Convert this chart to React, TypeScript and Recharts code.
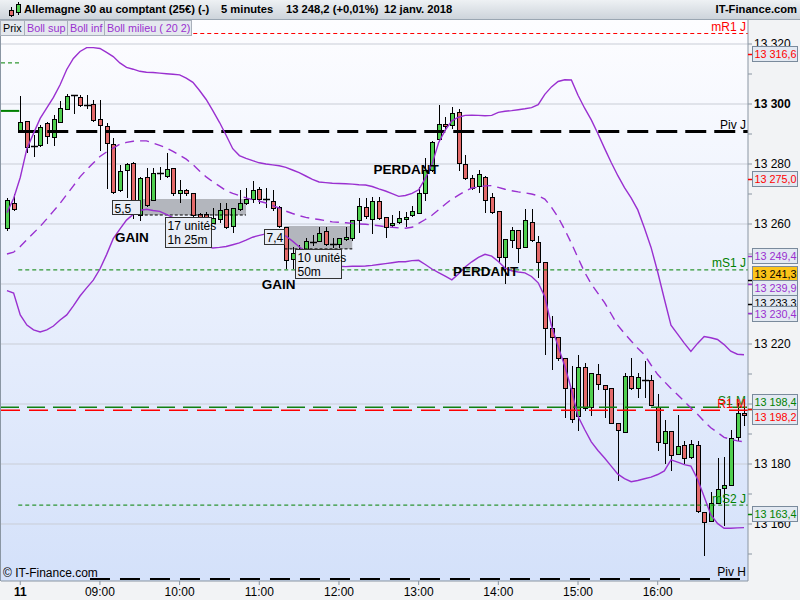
import React from "react";
import {
  ComposedChart,
  Bar,
  Line,
  XAxis,
  YAxis,
  CartesianGrid,
  ReferenceLine,
  ReferenceArea,
  ReferenceDot,
} from "recharts";

const FONT = '"Liberation Sans", Arial, sans-serif';
const GREEN = "#4fcf4f";
const RED = "#e36a6a";
const PURPLE = "#9a30d0";
const AXIS = "#8a96a3";

// 5-minute candles, 07:50 -> 17:05
const opens = [
  13258.6, 13266.9, 13290.8, 13294.3, 13286.0, 13286.3, 13293.5, 13288.9, 13293.9, 13298.3,
  13302.9, 13302.4, 13299.7, 13300.0, 13294.9, 13292.8, 13286.6, 13271.2, 13277.9, 13280.4,
  13263.0, 13275.6, 13268.0, 13276.8, 13276.0, 13278.6, 13270.2, 13271.3, 13270.2, 13263.3,
  13263.3, 13260.4, 13261.6, 13264.9, 13259.3, 13264.9, 13266.9, 13268.2, 13271.6, 13268.2,
  13267.8, 13265.8, 13259.1, 13248.2, 13251.3, 13251.3, 13254.1, 13254.4, 13257.7, 13253.3,
  13253.3, 13255.0, 13255.2, 13261.3, 13265.8, 13261.6, 13267.8, 13262.2, 13259.7, 13260.6,
  13261.7, 13263.0, 13263.6, 13270.2, 13278.0, 13288.3, 13293.4, 13293.0, 13297.2, 13279.9,
  13275.2, 13272.8, 13275.8, 13269.1, 13264.3, 13249.1, 13254.7, 13258.0, 13252.4, 13260.7,
  13254.1, 13247.2, 13225.4, 13222.2, 13215.2, 13205.2, 13196.0, 13212.2, 13198.9, 13209.9,
  13206.2, 13205.2, 13193.6, 13190.8, 13209.3, 13205.2, 13208.1, 13207.9, 13198.9, 13186.9,
  13191.0, 13183.3, 13186.3, 13182.2, 13186.3, 13164.1, 13161.1, 13167.1, 13171.9, 13173.0,
  13188.9, 13196.9,
];
const highs = [
  13268.7, 13269.9, 13302.7, 13294.5, 13289.7, 13293.0, 13294.0, 13296.3, 13301.0, 13303.2,
  13303.1, 13303.0, 13303.0, 13301.3, 13301.3, 13293.7, 13288.7, 13279.7, 13280.2, 13280.7,
  13275.8, 13278.6, 13278.6, 13279.0, 13283.6, 13278.7, 13274.7, 13271.7, 13270.3, 13263.7,
  13264.0, 13265.3, 13266.9, 13266.9, 13265.3, 13271.3, 13272.0, 13274.4, 13272.4, 13271.9,
  13271.3, 13266.0, 13259.1, 13252.2, 13253.0, 13255.3, 13256.3, 13258.9, 13258.9, 13255.2,
  13255.3, 13258.9, 13261.3, 13268.6, 13268.6, 13269.1, 13269.1, 13262.3, 13263.0, 13264.2,
  13264.1, 13266.0, 13272.4, 13282.1, 13287.6, 13299.7, 13295.8, 13299.1, 13298.3, 13283.0,
  13276.3, 13278.0, 13276.0, 13270.3, 13264.3, 13255.0, 13259.1, 13258.0, 13265.0, 13265.0,
  13256.0, 13247.3, 13229.3, 13222.3, 13215.3, 13212.7, 13216.3, 13213.6, 13210.4, 13213.3,
  13206.3, 13205.3, 13193.7, 13210.3, 13215.2, 13210.4, 13214.3, 13209.8, 13203.4, 13194.7,
  13191.0, 13196.3, 13187.8, 13188.0, 13187.8, 13164.1, 13170.8, 13181.9, 13182.2, 13191.3,
  13200.2, 13200.8,
];
const lows = [
  13258.0, 13264.7, 13290.6, 13284.1, 13282.8, 13286.0, 13287.0, 13286.2, 13293.9, 13298.3,
  13296.9, 13299.3, 13298.6, 13294.3, 13284.7, 13271.9, 13270.5, 13271.0, 13269.1, 13262.0,
  13261.3, 13266.0, 13268.0, 13275.0, 13275.8, 13269.7, 13267.4, 13269.7, 13262.0, 13259.0,
  13259.7, 13260.4, 13260.8, 13258.7, 13257.4, 13264.7, 13266.7, 13267.4, 13267.0, 13265.8,
  13264.7, 13258.9, 13245.2, 13245.2, 13249.0, 13250.7, 13253.0, 13254.3, 13253.0, 13252.4,
  13252.4, 13254.7, 13254.7, 13257.4, 13262.0, 13257.1, 13261.7, 13255.8, 13259.4, 13260.4,
  13259.4, 13262.7, 13263.6, 13268.0, 13277.7, 13288.0, 13291.3, 13291.9, 13278.0, 13274.9,
  13271.6, 13270.8, 13264.1, 13263.7, 13247.4, 13240.2, 13252.4, 13247.4, 13252.3, 13254.5,
  13242.4, 13216.7, 13211.6, 13214.7, 13195.8, 13194.1, 13191.3, 13198.0, 13196.3, 13204.9,
  13195.8, 13193.7, 13174.7, 13190.7, 13205.1, 13202.4, 13202.4, 13199.7, 13184.7, 13180.2,
  13178.0, 13183.3, 13180.2, 13182.0, 13164.0, 13149.7, 13161.0, 13167.0, 13159.7, 13173.0,
  13188.0, 13193.0,
];
const closes = [
  13268.0, 13265.0, 13293.9, 13285.6, 13286.0, 13292.4, 13289.2, 13295.0, 13298.6, 13302.8,
  13302.9, 13299.7, 13299.7, 13294.7, 13293.0, 13286.9, 13270.8, 13277.7, 13280.1, 13263.8,
  13275.2, 13266.3, 13276.9, 13277.0, 13278.2, 13270.2, 13271.3, 13270.2, 13263.0, 13262.2,
  13262.2, 13261.9, 13264.7, 13259.1, 13265.2, 13267.1, 13268.2, 13271.3, 13268.2, 13268.2,
  13265.2, 13259.3, 13248.0, 13250.2, 13251.3, 13254.3, 13254.1, 13257.1, 13253.3, 13253.3,
  13255.2, 13255.8, 13261.3, 13266.0, 13262.7, 13267.8, 13261.9, 13259.1, 13260.2, 13261.9,
  13262.4, 13264.3, 13270.2, 13278.0, 13287.4, 13293.2, 13292.6, 13296.9, 13280.2, 13275.2,
  13271.9, 13276.6, 13268.0, 13263.9, 13249.1, 13255.0, 13258.0, 13252.1, 13261.3, 13254.7,
  13247.4, 13225.2, 13222.2, 13215.4, 13205.2, 13194.9, 13212.2, 13198.6, 13210.2, 13206.7,
  13204.9, 13193.8, 13191.3, 13209.3, 13205.2, 13208.9, 13207.9, 13199.8, 13187.4, 13190.9,
  13183.0, 13186.0, 13181.9, 13186.7, 13164.4, 13160.8, 13166.9, 13171.6, 13173.0, 13188.6,
  13196.9, 13196.3,
];

// Bollinger (20, 2)
const bollSup = [
  13263.8, 13268.5, 13275.5, 13285.1, 13290.2, 13295.2, 13298.7, 13302.2, 13306.4, 13311.5,
  13315.2, 13317.5, 13318.8, 13318.8, 13318.5, 13317.2, 13315.8, 13313.7, 13312.2, 13311.6,
  13310.9, 13310.6, 13310.5, 13310.3, 13310.1, 13309.9, 13309.7, 13308.6, 13307.2, 13304.5,
  13301.5, 13297.8, 13293.9, 13289.6, 13285.1, 13282.8, 13281.9, 13281.1, 13280.4, 13280.0,
  13279.7, 13279.4, 13278.9, 13278.0, 13277.1, 13276.0, 13274.9, 13274.0, 13273.8, 13273.6,
  13273.5, 13273.4, 13273.3, 13273.1, 13273.0, 13272.5, 13271.7, 13271.0, 13270.1, 13269.2,
  13269.5, 13270.2, 13271.4, 13275.2, 13279.8, 13287.1, 13291.3, 13294.4, 13295.6, 13296.2,
  13296.3, 13296.2, 13296.1, 13296.2, 13297.2, 13297.6, 13297.8, 13298.1, 13298.4, 13298.8,
  13299.8, 13303.2, 13305.7, 13307.5, 13308.1, 13308.0, 13302.9, 13298.6, 13294.7, 13290.1,
  13285.2, 13280.5, 13276.1, 13272.1, 13268.7, 13264.7, 13258.7, 13252.2, 13244.0, 13235.0,
  13226.3, 13223.3, 13220.3, 13217.5, 13220.2, 13222.5, 13222.1, 13221.5, 13219.8, 13217.6,
  13216.6, 13216.4,
];
const bollMid = [
  13250.0, 13250.6, 13252.5, 13254.8, 13257.0, 13259.2, 13261.7, 13264.3, 13266.9, 13269.8,
  13272.7, 13275.7, 13278.1, 13280.3, 13282.5, 13284.0, 13285.3, 13286.6, 13287.2, 13287.6,
  13287.7, 13287.7, 13287.0, 13286.2, 13285.4, 13284.2, 13282.9, 13281.6, 13279.8, 13277.7,
  13275.7, 13274.1, 13272.6, 13271.1, 13270.2, 13269.5, 13268.7, 13268.1, 13267.6, 13267.0,
  13266.2, 13265.3, 13264.3, 13263.5, 13262.8, 13262.2, 13261.8, 13261.5, 13261.1, 13260.7,
  13260.6, 13260.4, 13260.2, 13260.0, 13259.9, 13259.7, 13259.4, 13259.1, 13258.9, 13258.7,
  13258.6, 13258.9, 13260.2, 13261.5, 13262.9, 13264.7, 13266.6, 13268.3, 13269.6, 13270.9,
  13272.0, 13272.3, 13272.7, 13272.8, 13272.2, 13271.6, 13271.1, 13270.7, 13270.4, 13270.0,
  13269.4, 13268.3, 13265.6, 13262.3, 13258.1, 13253.6, 13248.7, 13243.9, 13240.0, 13236.9,
  13233.8, 13230.0, 13226.2, 13223.5, 13221.0, 13218.6, 13216.4, 13213.0, 13209.8, 13207.5,
  13205.2, 13203.1, 13200.9, 13198.7, 13196.6, 13194.2, 13192.1, 13190.5, 13188.9, 13188.2,
  13187.7, 13187.4,
];
const bollInf = [
  13237.8, 13237.0, 13229.7, 13226.3, 13224.7, 13224.0, 13224.7, 13226.0, 13228.0, 13229.7,
  13232.7, 13236.0, 13238.7, 13241.3, 13245.0, 13249.8, 13255.1, 13258.3, 13261.3, 13263.2,
  13264.5, 13264.9, 13264.5, 13264.2, 13263.2, 13262.1, 13261.0, 13258.8, 13256.2, 13253.6,
  13252.6, 13252.0, 13252.2, 13252.5, 13253.1, 13253.7, 13254.6, 13255.6, 13256.2, 13256.7,
  13257.2, 13256.8, 13256.0, 13254.3, 13252.4, 13250.8, 13249.3, 13247.8, 13247.0, 13246.5,
  13245.9, 13245.8, 13245.9, 13245.9, 13246.0, 13246.2, 13246.5, 13246.8, 13247.1, 13247.4,
  13247.4, 13247.8, 13247.9, 13246.5, 13245.0, 13243.8, 13242.6, 13241.4, 13243.3, 13245.7,
  13247.4, 13248.9, 13249.9, 13249.3, 13247.5, 13245.3, 13244.4, 13244.0, 13243.7, 13242.5,
  13240.4, 13235.8, 13226.1, 13219.2, 13212.7, 13204.9, 13195.9, 13191.5, 13187.4, 13184.5,
  13182.0, 13179.3, 13176.6, 13175.1, 13174.1, 13174.5, 13175.1, 13175.6, 13176.5, 13177.7,
  13181.4, 13180.6, 13179.8, 13179.3, 13174.9, 13169.1, 13163.1, 13160.2, 13158.6, 13158.6,
  13158.7, 13158.8,
];

const hourTicks = [2, 14, 26, 38, 50, 62, 74, 86, 98];
const hourLabels = ["11", "09:00", "10:00", "11:00", "12:00", "13:00", "14:00", "15:00", "16:00"];
const gridLevels = [13160, 13180, 13200, 13220, 13240, 13260, 13280, 13300, 13320];
const yTicks = [
  13150, 13160, 13170, 13180, 13190, 13200, 13210, 13220, 13230, 13240, 13250,
  13260, 13270, 13280, 13290, 13300, 13310, 13320,
];

const levels = [
  { name: "mR1 J", value: 13323.5, color: "#ff0000", dash: "4 3", width: 1, from: 1.7 },
  { name: "Piv J", value: 13290.8, color: "#000000", dash: "21 8", width: 3, from: 1.7 },
  { name: "mS1 J", value: 13244.7, color: "#008000", dash: "4 3", width: 1, from: 1.7 },
  { name: "S1 M", value: 13198.9, color: "#108010", dash: "18 8", width: 1.5, from: -0.9 },
  { name: "R1 M", value: 13197.9, color: "#ff0000", dash: "19 9", width: 1.5, from: -0.9 },
  { name: "mS2 J", value: 13166.3, color: "#008000", dash: "4 3", width: 1, from: 1.7 },
  { name: "Piv H", value: 13141.7, color: "#000000", dash: "20 10", width: 2, from: 12.5 },
];

const priceTags = [
  { value: 13316.6, text: "13 316,6", color: "#ff0000", bg: "#e3e9f2", dy: 0 },
  { value: 13275.0, text: "13 275,0", color: "#ff0000", bg: "#e3e9f2", dy: 0 },
  { value: 13249.4, text: "13 249,4", color: PURPLE, bg: "#e3e9f2", dy: 0 },
  { value: 13241.3, text: "13 241,3", color: "#000000", bg: "#fcc419", dy: -6 },
  { value: 13239.9, text: "13 239,9", color: PURPLE, bg: "#e3e9f2", dy: 3.5 },
  { value: 13233.3, text: "13 233,3", color: "#000000", bg: "#e3e9f2", dy: -1.5 },
  { value: 13230.4, text: "13 230,4", color: PURPLE, bg: "#e3e9f2", dy: 1.5 },
  { value: 13198.4, text: "13 198,4", color: "#008000", bg: "#e3e9f2", dy: -7 },
  { value: 13198.2, text: "13 198,2", color: "#ff0000", bg: "#e3e9f2", dy: 8 },
  { value: 13163.4, text: "13 163,4", color: "#008000", bg: "#e3e9f2", dy: 0 },
];

const trades = [
  { from: 20, to: 36, top: 13268.3, bottom: 13263.0 },
  { from: 41.8, to: 52, top: 13259.3, bottom: 13251.7 },
];

const notes = [
  { i: 15.86, v: 13268.0, w: 28, h: 14, lines: ["5,5"] },
  { i: 23.84, v: 13262.3, w: 46, h: 30, lines: ["17 unités", "1h 25m"] },
  { i: 38.75, v: 13258.5, w: 20, h: 15, lines: ["7,4"] },
  { i: 43.4, v: 13251.7, w: 46, h: 29, lines: ["10 unités", "50m"] },
];

const tags = [
  { i: 18.8, v: 13255.7, text: "GAIN" },
  { i: 40.9, v: 13240.0, text: "GAIN" },
  { i: 60.1, v: 13278.3, text: "PERDANT" },
  { i: 72.1, v: 13244.5, text: "PERDANT" },
];

const data = opens.map((o, i) => ({
  i,
  o,
  h: highs[i],
  l: lows[i],
  c: closes[i],
  sup: bollSup[i],
  mid: bollMid[i],
  inf: bollInf[i],
}));

const X_DOMAIN = [-0.9, 111.6];
const Y_DOMAIN = [13141, 13328];

const fmt = (v: number) => `${Math.floor(v / 1000)} ${String(v % 1000).padStart(3, "0")}`;

// a y label is hidden when one of the price tags sits on it
const coveredByTag = (v: number) =>
  priceTags.some((p) => Math.abs(p.value - p.dy / 3 - v) < 3);

const Candle = (props: any) => {
  const { x, y, width, height, payload } = props;
  if (x == null || y == null || !payload) return null;
  const { o, h, l, c } = payload;
  const top = Math.min(y, y + height);
  const hgt = Math.abs(height);
  const cx = Math.round(x + width / 2) + 0.5;
  const span = h - l;
  const toY = (v: number) => (span > 0 ? top + ((h - v) / span) * hgt : top);
  const yTop = Math.round(toY(Math.max(o, c))) + 0.5;
  const yBot = Math.round(toY(Math.min(o, c))) + 0.5;
  const doji = yBot - yTop < 1.5;
  return (
    <g>
      <line x1={cx} x2={cx} y1={Math.round(top)} y2={Math.round(top + hgt) + 1} stroke="#000" />
      {doji ? (
        <line x1={cx - 3.5} x2={cx + 3.5} y1={yTop} y2={yTop} stroke="#000" strokeWidth={1.5} />
      ) : (
        <rect
          x={cx - 2}
          y={yTop}
          width={4}
          height={yBot - yTop}
          fill={c >= o ? GREEN : RED}
          stroke="#000"
        />
      )}
    </g>
  );
};

const YTick = (props: any) => {
  const { x, y, payload } = props;
  const v = payload.value;
  if (v % 20 !== 0 || coveredByTag(v)) return null;
  return (
    <text x={x} y={y + 4} fontSize={12} fontFamily={FONT} fill="#000" fontWeight={v === 13300 ? 700 : 400}>
      {fmt(v)}
    </text>
  );
};

const XTick = (props: any) => {
  const { x, y, payload } = props;
  const k = hourTicks.indexOf(payload.value);
  return (
    <text x={x} y={y + 9} textAnchor="middle" fontSize={12} fontFamily={FONT} fill="#000" fontWeight={k === 0 ? 700 : 400}>
      {hourLabels[k]}
    </text>
  );
};

const LevelLabel = (props: any) => {
  const { viewBox, text, color } = props;
  if (!viewBox) return null;
  return (
    <text x={viewBox.x + viewBox.width - 2} y={viewBox.y - 2.5} textAnchor="end" fontSize={12} fontFamily={FONT} fill={color}>
      {text}
    </text>
  );
};

const PriceTag = (props: any) => {
  const { viewBox, text, color, bg, dy } = props;
  if (!viewBox) return null;
  const x0 = viewBox.x + viewBox.width;
  const yl = Math.round(viewBox.y) + 0.5;
  const yc = Math.round(viewBox.y + dy);
  return (
    <g>
      <line x1={x0} x2={x0 + 4} y1={yl} y2={yl} stroke={color} strokeWidth={1.5} />
      <rect x={x0 + 4.5} y={yc - 7.5} width={45} height={15} fill={bg} stroke="#7a8a9c" />
      <text x={x0 + 6.5} y={yc + 4} fontSize={10.8} fontFamily={FONT} fill={color}>
        {text}
      </text>
    </g>
  );
};

const NoteBox = (props: any) => {
  const { cx, cy, w, h, lines } = props;
  const x0 = Math.round(cx) + 0.5;
  const y0 = Math.round(cy) + 0.5;
  return (
    <g>
      <rect x={x0} y={y0} width={w} height={h} fill="#e8edf6" stroke="#333" />
      {lines.map((t: string, k: number) => (
        <text key={k} x={x0 + 2} y={y0 + 12 + k * 14} fontSize={12} fontFamily={FONT} fill="#000">
          {t}
        </text>
      ))}
    </g>
  );
};

const TagText = (props: any) => (
  <text
    x={props.cx}
    y={props.cy + 5}
    textAnchor="middle"
    fontSize={13.5}
    fontWeight={700}
    fontFamily={FONT}
    fill="#000"
  >
    {props.text}
  </text>
);

const tabs = [
  { text: "Prix", color: "#000", left: 0, width: 21 },
  { text: "Boll sup", color: PURPLE, left: 24, width: 40 },
  { text: "Boll inf", color: PURPLE, left: 67, width: 34 },
  { text: "Boll milieu ( 20 2)", color: PURPLE, left: 104, width: 84 },
];

const titleParts = [
  { text: "Allemagne 30 au comptant (25€) (-)", left: 24 },
  { text: "5 minutes", left: 221 },
  { text: "13 248,2 (+0,01%)", left: 286 },
  { text: "12 janv. 2018", left: 384 },
];

export default function App() {
  return (
    <div
      style={{
        position: "absolute",
        left: 0,
        top: 0,
        width: 800,
        height: 600,
        background: "#f2f3f5",
        overflow: "hidden",
        fontFamily: FONT,
      }}
    >
      <ComposedChart
        width={800}
        height={600}
        data={data}
        margin={{ top: 20, right: 0, bottom: 0, left: 1 }}
        style={{ fontFamily: FONT }}
      >
        <defs>
          <linearGradient id="plotBg" x1="0" y1="0" x2="0" y2="1">
            <stop offset="0" stopColor="#fdfdff" />
            <stop offset="1" stopColor="#d4e1fa" />
          </linearGradient>
        </defs>
        <CartesianGrid
          vertical={false}
          horizontalValues={gridLevels}
          stroke="#c9cdd6"
          fill="url(#plotBg)"
          fillOpacity={1}
        />
        <XAxis
          type="number"
          dataKey="i"
          domain={X_DOMAIN}
          allowDataOverflow
          ticks={hourTicks}
          interval={0}
          tick={<XTick />}
          tickSize={4}
          height={19}
          stroke={AXIS}
        />
        <YAxis
          orientation="right"
          type="number"
          domain={Y_DOMAIN}
          allowDataOverflow
          ticks={yTicks}
          interval={0}
          width={52}
          tickSize={4}
          tickMargin={2}
          tick={<YTick />}
          stroke={AXIS}
        />
        {trades.map((t, k) => (
          <ReferenceArea
            key={`a${k}`}
            x1={t.from}
            x2={t.to}
            y1={t.bottom}
            y2={t.top}
            fill="#a4a6ad"
            fillOpacity={0.8}
            stroke="none"
          />
        ))}
        {trades.map((t, k) => (
          <ReferenceLine
            key={`b${k}`}
            segment={[
              { x: t.from, y: t.bottom },
              { x: t.to, y: t.bottom },
            ]}
            stroke="#000"
            strokeDasharray="3 2"
          />
        ))}
        <ReferenceLine
          segment={[
            { x: -0.9, y: 13313.7 },
            { x: 1.85, y: 13313.7 },
          ]}
          stroke="#008000"
          strokeDasharray="4 3"
        />
        <ReferenceLine
          segment={[
            { x: -0.9, y: 13297.7 },
            { x: 1.85, y: 13297.7 },
          ]}
          stroke="#008000"
          strokeWidth={2}
        />
        {levels.map((lv) => (
          <ReferenceLine
            key={lv.name}
            segment={[
              { x: lv.from, y: lv.value },
              { x: 111.6, y: lv.value },
            ]}
            stroke={lv.color}
            strokeDasharray={lv.dash}
            strokeWidth={lv.width}
          />
        ))}
        <Line dataKey="sup" stroke={PURPLE} strokeWidth={1.4} dot={false} activeDot={false} isAnimationActive={false} />
        <Line dataKey="inf" stroke={PURPLE} strokeWidth={1.4} dot={false} activeDot={false} isAnimationActive={false} />
        <Line
          dataKey="mid"
          stroke={PURPLE}
          strokeWidth={1.4}
          strokeDasharray="9 6"
          dot={false}
          activeDot={false}
          isAnimationActive={false}
        />
        <Bar dataKey={(d: any) => [d.l, d.h]} barSize={5} shape={<Candle />} isAnimationActive={false} />
        {notes.map((n, k) => (
          <ReferenceDot
            key={`n${k}`}
            x={n.i}
            y={n.v}
            r={1}
            shape={(p: any) => <NoteBox {...p} w={n.w} h={n.h} lines={n.lines} />}
          />
        ))}
        {tags.map((t, k) => (
          <ReferenceDot key={`t${k}`} x={t.i} y={t.v} r={1} shape={(p: any) => <TagText {...p} text={t.text} />} />
        ))}
      </ComposedChart>

      {/* top layer: level names and price tags, drawn above candles and axis */}
      <div style={{ position: "absolute", left: 0, top: 0, pointerEvents: "none" }}>
        <ComposedChart
          width={800}
          height={600}
          data={data}
          margin={{ top: 20, right: 52, bottom: 19, left: 1 }}
        >
          <XAxis hide type="number" dataKey="i" domain={X_DOMAIN} allowDataOverflow />
          <YAxis hide type="number" domain={Y_DOMAIN} allowDataOverflow />
          {levels.map((lv) => (
            <ReferenceLine
              key={lv.name}
              segment={[
                { x: lv.from, y: lv.value },
                { x: 111.6, y: lv.value },
              ]}
              stroke="none"
              label={<LevelLabel text={lv.name} color={lv.color} />}
            />
          ))}
          {priceTags.map((p) => (
            <ReferenceLine
              key={p.text}
              y={p.value}
              stroke="none"
              ifOverflow="visible"
              label={<PriceTag text={p.text} color={p.color} bg={p.bg} dy={p.dy} />}
            />
          ))}
        </ComposedChart>
      </div>

      <div
        style={{
          position: "absolute",
          left: 0,
          top: 20,
          width: 1,
          height: 561,
          background: AXIS,
        }}
      />
      <div
        style={{
          position: "absolute",
          left: 0,
          top: 0,
          width: 800,
          height: 19,
          background: "linear-gradient(#eef1f4, #cdd4db)",
          borderBottom: "1px solid #9aa6b2",
          fontSize: 11.2,
          fontWeight: 700,
          color: "#000",
        }}
      >
        <svg width={16} height={16} style={{ position: "absolute", left: 7, top: 2 }}>
          <line x1={4.5} x2={4.5} y1={5} y2={15} stroke="#000" />
          <rect x={2.5} y={8.5} width={4} height={5} fill={RED} stroke="#000" />
          <line x1={11.5} x2={11.5} y1={0} y2={13} stroke="#000" />
          <rect x={9.5} y={2.5} width={4} height={8} fill={GREEN} stroke="#000" />
        </svg>
        {titleParts.map((t) => (
          <span key={t.text} style={{ position: "absolute", left: t.left, top: 3, whiteSpace: "nowrap" }}>
            {t.text}
          </span>
        ))}
        <span style={{ position: "absolute", right: 3, top: 3 }}>IT-Finance.com</span>
      </div>
      {tabs.map((t) => (
        <div
          key={t.text}
          style={{
            position: "absolute",
            left: t.left,
            top: 20,
            width: t.width,
            height: 14,
            background: "#e4e8ee",
            border: "1px solid #a9b0bb",
            fontSize: 10.8,
            lineHeight: "14px",
            color: t.color,
            paddingLeft: 2,
            boxSizing: "content-box",
            whiteSpace: "nowrap",
            overflow: "hidden",
          }}
        >
          {t.text}
        </div>
      ))}
      <div
        style={{
          position: "absolute",
          left: 3,
          top: 566,
          fontSize: 12,
          color: "#000",
        }}
      >
        © IT-Finance.com
      </div>
    </div>
  );
}
